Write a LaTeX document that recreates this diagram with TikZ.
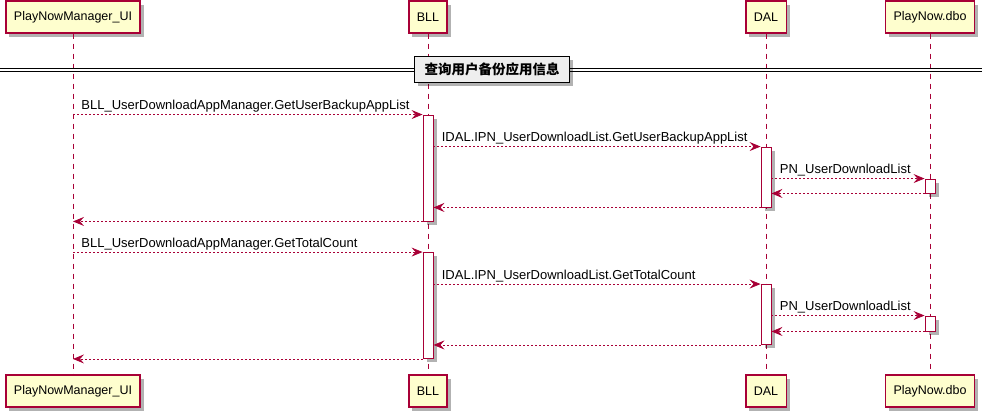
\documentclass[tikz,border=0pt]{standalone}
\usepackage{fontspec}
\setmainfont{Liberation Sans}
\newfontfamily\cjk{Noto Sans CJK SC}
\usetikzlibrary{arrows.meta, shadows}
\definecolor{umlred}{HTML}{A80036}
\definecolor{umlbox}{HTML}{FEFECE}
\definecolor{umlgrp}{HTML}{EEEEEE}
\tikzset{every picture/.style = {x=1pt, y=-1pt, font=\fontsize{13}{15}\selectfont}}
\tikzset{shade/.style = {drop shadow={shadow xshift=3.5pt, shadow yshift=-3.5pt, fill=black, opacity=0.3}}}
\tikzset{actor/.style = {draw=umlred, fill=umlbox, line width=1.3pt, minimum height=32pt, inner xsep=8pt, font=\fontsize{12.5}{15}\selectfont, shade}}
\tikzset{life/.style = {umlred, line width=0.8pt, dash pattern=on 5pt off 5pt}}
\tikzset{act/.style = {draw=umlred, fill=white, line width=0.9pt, minimum width=10pt, inner sep=0, shade}}
\tikzset{msg/.style = {umlred, line width=0.8pt, dash pattern=on 2pt off 2pt, -{Stealth[length=11pt, width=9pt, inset=4pt]}}}
\tikzset{lbl/.style = {black, anchor=base west, inner sep=0, xshift=8pt, yshift=5pt}}
\tikzset{grp/.style = {draw=black, fill=umlgrp, line width=1.3pt, minimum height=26pt, inner xsep=10pt, font=\cjk\bfseries\fontsize{13.5}{15}\selectfont, shade}}

\begin{document}
\begin{tikzpicture}
  \useasboundingbox (0,0) rectangle (982,413);
  % participants, top and bottom
  \node[actor] (ui)   at (73,17)  {PlayNowManager\_UI};
  \node[actor] (bll)  at (428,17) {BLL};
  \node[actor] (dal)  at (766,17) {DAL};
  \node[actor] (dbo)  at (930,17) {PlayNow.dbo};
  \node[actor] (uiB)  at (73,391)  {PlayNowManager\_UI};
  \node[actor] (bllB) at (428,391) {BLL};
  \node[actor] (dalB) at (766,391) {DAL};
  \node[actor] (dboB) at (930,391) {PlayNow.dbo};
  \draw[life] (ui) -- (uiB);
  \draw[life] (bll) -- (bllB);
  \draw[life] (dal) -- (dalB);
  \draw[life] (dbo) -- (dboB);
  % divider
  \draw[line width=1pt, double distance=2pt] (0,69.5) -- (982,69.5);
  \node[grp] (sep) at (492,69.5) {查询用户备份应用信息};
  % activations
  \node[act, minimum height=106pt] (bll1) at (428,168) {};
  \node[act, minimum height=60pt]  (dal1) at (766,177) {};
  \node[act, minimum height=14pt]  (dbo1) at (930,186) {};
  \node[act, minimum height=106pt] (bll2) at (428,305.5) {};
  \node[act, minimum height=60pt]  (dal2) at (766,314.5) {};
  \node[act, minimum height=15pt]  (dbo2) at (930,323.5) {};
  % messages
  \foreach \i/\op in {1/GetUserBackupAppList, 2/GetTotalCount} {
    \draw[msg] (ui |- bll\i.north) node[lbl]{BLL\_UserDownloadAppManager.\op} -- (bll\i.north west);
    \draw[msg] (bll\i.east |- dal\i.north) node[lbl]{IDAL.IPN\_UserDownloadList.\op} -- (dal\i.north west);
    \draw[msg] (dal\i.east |- dbo\i.north) node[lbl]{PN\_UserDownloadList} -- (dbo\i.north west);
    \draw[msg] (dbo\i.south west) -- (dal\i.east |- dbo\i.south);
    \draw[msg] (dal\i.south west) -- (bll\i.east |- dal\i.south);
    \draw[msg] (bll\i.south west) -- (ui |- bll\i.south);
  }
\end{tikzpicture}
\end{document}
